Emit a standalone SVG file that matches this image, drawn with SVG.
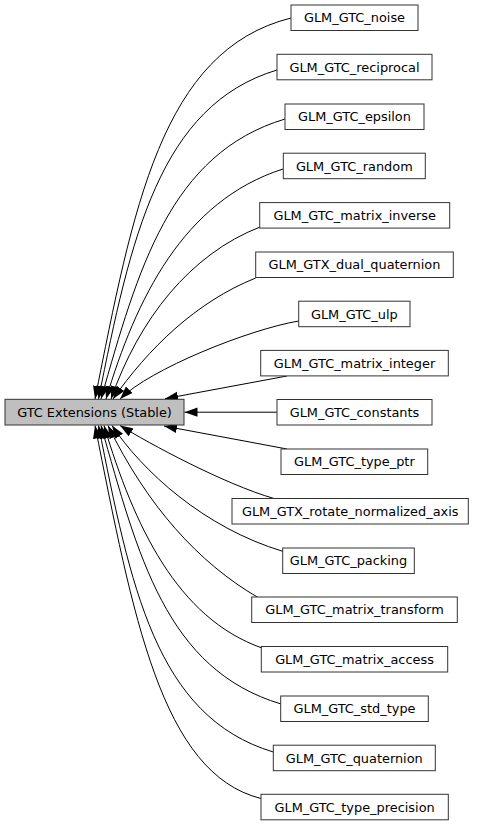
<svg xmlns="http://www.w3.org/2000/svg" width="483" height="825" viewBox="0 0 483 825">
<defs>
<marker id="ah" markerWidth="14" markerHeight="10" refX="13" refY="4.6" orient="auto" markerUnits="userSpaceOnUse"><path d="M0,0 L13,4.6 L0,9.2 z" fill="#000"/></marker>
</defs>
<style>
rect{fill:#fff;stroke:#333;stroke-width:1}
#main rect{fill:#bfbfbf}
text{font-family:"DejaVu Sans","Liberation Sans",sans-serif;font-size:12.9px;text-anchor:middle;fill:#000}
#edges path{fill:none;stroke:#000;stroke-width:1;marker-end:url(#ah)}
</style>
<rect x="0" y="0" width="483" height="825" style="fill:#fff;stroke:none"/>
<g id="edges">
<path d="M291,18 C161,50.5 133,209 95,399"/>
<path d="M277,70 C159,105.4 130.5,239 98.5,399"/>
<path d="M285,119 C170,153.5 138,269 101,399"/>
<path d="M283,169 C183,201 136,299 106,399"/>
<path d="M260,227 C190,254.3 139,319 111,399"/>
<path d="M255.7,278 C195.7,302 148,349 113,399"/>
<path d="M298.7,321 C248.7,329.5 150,369 120,399"/>
<path d="M287,376 L165,398.7"/>
<path d="M277,412.2 L184.5,412.2"/>
<path d="M287,449 L164,426"/>
<path d="M274,498.5 C224,484 149,443.5 120,425.5"/>
<path d="M283.3,551.5 C203.3,527.5 142,470.5 112,425.5"/>
<path d="M258,597.5 C198,562.5 147,505.5 108,425.5"/>
<path d="M262,648 C177,618 134,525.5 104,425.5"/>
<path d="M281,704 C166,669.5 138,555.5 101,425.5"/>
<path d="M273.3,752 C155.3,716.6 130.5,585.5 98.5,425.5"/>
<path d="M261,798.5 C161,773.5 133,615.5 95,425.5"/>
</g>
<g id="main"><rect x="5" y="399.3" width="179" height="25.7"/><text x="94.5" y="416.8">GTC Extensions (Stable)</text></g>
<g id="n_noise"><rect x="291" y="5" width="127" height="25.5"/><text x="354.5" y="22.3">GLM_GTC_noise</text></g>
<g id="n_reciprocal"><rect x="277" y="54.3" width="155" height="25.5"/><text x="354.5" y="71.6">GLM_GTC_reciprocal</text></g>
<g id="n_epsilon"><rect x="285" y="104" width="139" height="25.5"/><text x="354.5" y="121.3">GLM_GTC_epsilon</text></g>
<g id="n_random"><rect x="283.3" y="153.2" width="142" height="25.5"/><text x="354.3" y="170.6">GLM_GTC_random</text></g>
<g id="n_matrix_inverse"><rect x="259.7" y="202.6" width="190" height="25.5"/><text x="354.7" y="219.9">GLM_GTC_matrix_inverse</text></g>
<g id="n_dual_quaternion"><rect x="255.7" y="252" width="197.6" height="25.5"/><text x="354.5" y="269.3">GLM_GTX_dual_quaternion</text></g>
<g id="n_ulp"><rect x="298.7" y="301.2" width="111.3" height="25.5"/><text x="354.3" y="318.6">GLM_GTC_ulp</text></g>
<g id="n_matrix_integer"><rect x="260.7" y="350.4" width="187.6" height="25.5"/><text x="354.5" y="367.7">GLM_GTC_matrix_integer</text></g>
<g id="n_constants"><rect x="277" y="399.5" width="155" height="25.5"/><text x="354.5" y="416.8">GLM_GTC_constants</text></g>
<g id="n_type_ptr"><rect x="281" y="449" width="146.7" height="25.5"/><text x="354.4" y="466.3">GLM_GTC_type_ptr</text></g>
<g id="n_rotate_normalized_axis"><rect x="232" y="498.5" width="236.3" height="25.5"/><text x="350.2" y="515.8">GLM_GTX_rotate_normalized_axis</text></g>
<g id="n_packing"><rect x="282.7" y="548" width="131.6" height="25.5"/><text x="348.5" y="565.3">GLM_GTC_packing</text></g>
<g id="n_matrix_transform"><rect x="251.7" y="597" width="205.6" height="25.5"/><text x="354.5" y="614.3">GLM_GTC_matrix_transform</text></g>
<g id="n_matrix_access"><rect x="261.3" y="646.5" width="186.4" height="25.5"/><text x="354.5" y="663.8">GLM_GTC_matrix_access</text></g>
<g id="n_std_type"><rect x="280.7" y="696" width="147.6" height="25.5"/><text x="354.5" y="713.3">GLM_GTC_std_type</text></g>
<g id="n_quaternion"><rect x="273.3" y="745.2" width="162" height="25.5"/><text x="354.3" y="762.5">GLM_GTC_quaternion</text></g>
<g id="n_type_precision"><rect x="261" y="794.3" width="187.3" height="25.5"/><text x="354.6" y="811.6">GLM_GTC_type_precision</text></g>
</svg>
